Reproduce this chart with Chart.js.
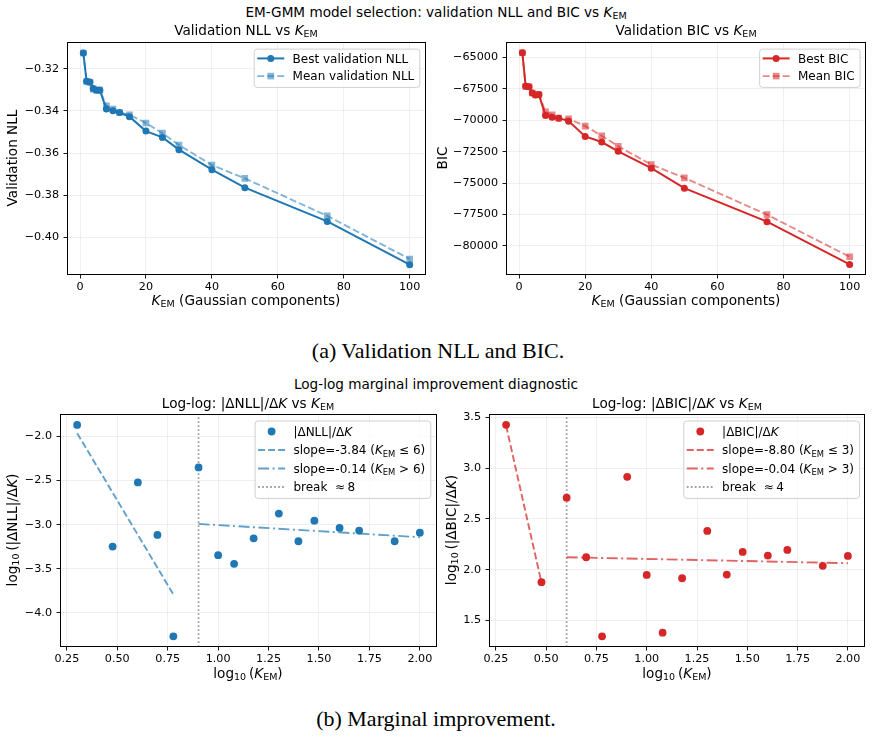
<!DOCTYPE html>
<html><head><meta charset="utf-8">
<script src="https://cdn.jsdelivr.net/npm/chart.js@4"></script>
<style>
html,body{margin:0;padding:0;background:#fff;overflow:hidden}
body{width:873px;height:737px;position:relative;font-family:"DejaVu Sans",sans-serif;color:#000}
canvas{position:absolute}
.t{position:absolute;white-space:nowrap;transform:translate(-50%,-50%);line-height:1;font-size:13.6px}
.t.r{transform:translate(-50%,-50%) rotate(-90deg)}
sub{font-size:70%;vertical-align:-0.22em;line-height:0}
.cap{font-family:"Liberation Serif",serif;font-size:22px}
</style></head><body>
<canvas id="c1"></canvas><canvas id="c2"></canvas><canvas id="c3"></canvas><canvas id="c4"></canvas>
<div class="t" style="left:436px;top:12.6px">EM-GMM model selection: validation NLL and BIC vs <i>K</i><sub>EM</sub></div>
<div class="t" style="left:246px;top:31.3px">Validation NLL vs <i>K</i><sub>EM</sub></div>
<div class="t" style="left:686px;top:31.3px">Validation BIC vs <i>K</i><sub>EM</sub></div>
<div class="t" style="left:246px;top:301.3px"><i>K</i><sub>EM</sub> (Gaussian components)</div>
<div class="t" style="left:686px;top:301.3px"><i>K</i><sub>EM</sub> (Gaussian components)</div>
<div class="t r" style="left:13px;top:158px">Validation NLL</div>
<div class="t r" style="left:443px;top:158px">BIC</div>
<div class="t cap" style="left:438px;top:350.9px">(a) Validation NLL and BIC.</div>
<div class="t" style="left:436px;top:384.6px">Log-log marginal improvement diagnostic</div>
<div class="t" style="left:248px;top:404.3px">Log-log: |ΔNLL|/Δ<i>K</i> vs <i>K</i><sub>EM</sub></div>
<div class="t" style="left:677px;top:404.3px">Log-log: |ΔBIC|/Δ<i>K</i> vs <i>K</i><sub>EM</sub></div>
<div class="t" style="left:248px;top:673.6px">log<sub>10</sub>&thinsp;(<i>K</i><sub>EM</sub>)</div>
<div class="t" style="left:677px;top:673.6px">log<sub>10</sub>&thinsp;(<i>K</i><sub>EM</sub>)</div>
<div class="t r" style="left:12.6px;top:530px">log<sub>10</sub>&thinsp;(|ΔNLL|/Δ<i>K</i>)</div>
<div class="t r" style="left:452.3px;top:530px">log<sub>10</sub>&thinsp;(|ΔBIC|/Δ<i>K</i>)</div>
<div class="t cap" style="left:436px;top:719.3px">(b) Marginal improvement.</div>
<script>
// ---------- data ----------
const K = [1, 2, 3, 4, 5, 6, 8, 10, 12, 15, 20, 25, 30, 40, 50, 75, 100];
const nllBest = [-0.3126, -0.3260, -0.3263, -0.3294, -0.3302, -0.3302, -0.3392, -0.3400, -0.3408, -0.3428, -0.3496, -0.3526, -0.3584, -0.3679, -0.3764, -0.3924, -0.4129];
const nllMean = [-0.3126, -0.3261, -0.3266, -0.3297, -0.3302, -0.3301, -0.3376, -0.3392, -0.3408, -0.3419, -0.3458, -0.3506, -0.3562, -0.3657, -0.3720, -0.3898, -0.4102];
const bicBest = [-64630, -67298, -67330, -67826, -67984, -67958, -69622, -69754, -69833, -70071, -71286, -71735, -72474, -73821, -75406, -78073, -81480];
const bicMean = [-64630, -67300, -67335, -67830, -67990, -67960, -69331, -69569, -69833, -69886, -70467, -71233, -72078, -73531, -74587, -77518, -80872];

const logK = [0.301, 0.477, 0.602, 0.699, 0.778, 0.903, 1.000, 1.079, 1.176, 1.301, 1.398, 1.477, 1.602, 1.699, 1.875, 2.000];
const dNll = [-1.868, -3.249, -2.521, -3.117, -4.268, -2.351, -3.347, -3.445, -3.155, -2.875, -3.189, -2.955, -3.038, -3.068, -3.189, -3.091];
const dBic = [3.428, 1.877, 2.710, 2.123, 1.343, 2.916, 1.949, 1.379, 1.916, 2.382, 1.952, 2.175, 2.139, 2.195, 2.038, 2.136];

const nllFitLoX = [0.301, 0.778], nllFitLoY = [-1.962, -3.792];
const nllFitHiX = [0.903, 2.000], nllFitHiY = [-2.992, -3.143];
const bicFitLoX = [0.301, 0.477], bicFitLoY = [3.420, 1.872];
const bicFitHiX = [0.602, 2.000], bicFitHiY = [2.123, 2.064];
const nllBreak = 0.903, bicBreak = 0.602;

const kTicks = [0, 20, 40, 60, 80, 100];
const nllTicks = [-0.40, -0.38, -0.36, -0.34, -0.32];
const bicTicks = [-80000, -77500, -75000, -72500, -70000, -67500, -65000];
const logTicks = [0.25, 0.50, 0.75, 1.00, 1.25, 1.50, 1.75, 2.00];
const dNllTicks = [-4.0, -3.5, -3.0, -2.5, -2.0];
const dBicTicks = [1.5, 2.0, 2.5, 3.0, 3.5];

// ---------- styling ----------
const BLUE = 'rgb(31,119,180)', RED = 'rgb(214,39,40)';
const BLUE_M = 'rgba(31,119,180,0.55)', RED_M = 'rgba(214,39,40,0.55)';
const BLUE_F = 'rgba(31,119,180,0.7)', RED_F = 'rgba(214,39,40,0.72)';
const GRAY_B = 'rgba(128,128,128,0.75)';
const DASH = [7, 3], DASHDOT = [11, 3.5, 2, 3.5], DOT = [1.8, 2.2];
const FONT = 'DejaVu Sans';
const TICK_FS = 11.2;

function fmt(v, d) { return v.toFixed(d).replace('-', '\u2212'); }
function pts(xs, ys) { return xs.map((x, i) => ({x: x, y: ys[i]})); }

function segFont(st, fs) {
  if (st === 'i') return 'italic ' + fs + 'px "' + FONT + '"';
  if (st === 's') return (fs * 0.7) + 'px "' + FONT + '"';
  return fs + 'px "' + FONT + '"';
}
function richWidth(ctx, segs, fs) {
  let w = 0;
  for (const s of segs) { ctx.font = segFont(s[1], fs); w += ctx.measureText(s[0]).width; }
  return w;
}
function drawRich(ctx, segs, x, y, fs) {
  ctx.textBaseline = 'alphabetic'; ctx.textAlign = 'left';
  for (const s of segs) {
    ctx.font = segFont(s[1], fs);
    const dy = s[1] === 's' ? fs * 0.22 : 0;
    ctx.fillText(s[0], x, y + dy);
    x += ctx.measureText(s[0]).width;
  }
}
function marker(ctx, kind, x, y, r, color) {
  ctx.fillStyle = color; ctx.beginPath();
  if (kind === 'rect') { const s = r * Math.SQRT1_2; ctx.rect(x - s, y - s, 2 * s, 2 * s); }
  else ctx.arc(x, y, r, 0, Math.PI * 2);
  ctx.fill();
}

const LEG = {};
const boxPlugin = { id: 'box', afterDatasetsDraw(chart) {
  const a = chart.chartArea, c = chart.ctx;
  c.save(); c.strokeStyle = '#000'; c.lineWidth = 1; c.setLineDash([]);
  const l = Math.round(a.left) + 0.5, t = Math.round(a.top) + 0.5, r = Math.round(a.right) - 0.5, b = Math.round(a.bottom) - 0.5;
  c.strokeRect(l, t, r - l, b - t); c.restore();
}};
const legendPlugin = { id: 'rlegend', afterDraw(chart) {
  const L = LEG[chart.canvas.id]; if (!L) return;
  const ctx = chart.ctx, a = chart.chartArea, fs = L.fs;
  let maxW = 0;
  for (const it of L.items) maxW = Math.max(maxW, richWidth(ctx, it.label, fs));
  const pad = 3.5, hl = 27, gap = 8.3, padR = 5;
  const w = pad + hl + gap + maxW + padR, h = L.h;
  const x0 = a.right - L.dr - w, y0 = a.top + L.dt;
  ctx.save();
  ctx.beginPath();
  if (ctx.roundRect) ctx.roundRect(x0 + 0.5, y0 + 0.5, w, h, 3); else ctx.rect(x0 + 0.5, y0 + 0.5, w, h);
  ctx.fillStyle = 'rgba(255,255,255,0.8)'; ctx.fill();
  ctx.strokeStyle = '#d0d0d0'; ctx.lineWidth = 1; ctx.stroke();
  L.items.forEach((it, i) => {
    const y = y0 + L.first + i * L.step;
    const hx = x0 + pad;
    if (it.line) {
      ctx.beginPath(); ctx.setLineDash(it.dash || []); ctx.lineWidth = it.lw; ctx.strokeStyle = it.color;
      ctx.moveTo(hx, y); ctx.lineTo(hx + hl, y); ctx.stroke(); ctx.setLineDash([]);
    }
    if (it.marker) marker(ctx, it.marker, hx + hl / 2, y, it.r, it.color);
    ctx.fillStyle = '#000';
    drawRich(ctx, it.label, hx + hl + gap, y + fs * 0.36, fs);
  });
  ctx.restore();
}};

function axis(s, dir, size) {
  return {
    type: 'linear', position: dir === 'x' ? 'bottom' : 'left', min: s.min, max: s.max,
    afterBuildTicks: sc => { sc.ticks = s.ticks.map(v => ({value: v})); },
    afterFit: sc => { if (dir === 'x') sc.height = size; else sc.width = size; },
    ticks: { callback: v => fmt(v, s.dec), color: '#000', font: {family: FONT, size: TICK_FS},
             padding: dir === 'x' ? 1.5 : 4.5, maxRotation: 0, minRotation: 0, autoSkip: false },
    grid: { color: '#ebebeb', lineWidth: 0.8, tickColor: '#000', tickLength: 3.5, tickWidth: 0.9, drawTicks: true },
    border: { display: false }
  };
}

function makeChart(id, g, datasets, xs, ys, leg) {
  const cv = document.getElementById(id);
  const W = g.yw + (g.R - g.L) + g.pr, H = g.pt + (g.B - g.T) + g.xh;
  cv.width = W; cv.height = H;
  cv.style.left = (g.L - g.yw) + 'px'; cv.style.top = (g.T - g.pt) + 'px';
  cv.style.width = W + 'px'; cv.style.height = H + 'px';
  LEG[id] = leg;
  return new Chart(cv, {
    type: 'scatter', data: { datasets },
    options: {
      responsive: false, animation: false, devicePixelRatio: 1,
      layout: { padding: { left: 0, top: g.pt, right: g.pr, bottom: 0 } },
      plugins: { legend: { display: false }, tooltip: { enabled: false } },
      elements: { line: { tension: 0 } },
      scales: { x: axis(xs, 'x', g.xh), y: axis(ys, 'y', g.yw) }
    },
    plugins: [boxPlugin, legendPlugin]
  });
}

function lineDs(xs, ys, color, lw, dash, ps, pr, order) {
  return { data: pts(xs, ys), showLine: true, borderColor: color, backgroundColor: color, borderWidth: lw,
           borderDash: dash, pointStyle: ps, pointRadius: pr, pointBorderWidth: 0, pointHoverRadius: pr, order: order };
}

// ---------- top-left: NLL ----------
const xK = { min: -3.95, max: 104.95, ticks: kTicks, dec: 0 };
makeChart('c1', {L: 67, T: 41, R: 426, B: 275, yw: 50, xh: 24, pt: 10, pr: 10}, [
  lineDs(K, nllMean, BLUE_M, 1.9, DASH, 'rect', 4.7, 0),
  lineDs(K, nllBest, BLUE, 2, [], 'circle', 3.5, 1)
], xK, { min: -0.4178, max: -0.3075, ticks: nllTicks, dec: 2 }, {
  fs: 12, dr: 6.7, dt: 6.4, h: 38.3, first: 9.8, step: 17.7,
  items: [
    { line: true, color: BLUE, lw: 2, marker: 'circle', r: 3.5, label: [['Best validation NLL', '']] },
    { line: true, color: BLUE_M, lw: 1.9, dash: DASH, marker: 'rect', r: 4.7, label: [['Mean validation NLL', '']] }
  ]
});

// ---------- top-right: BIC ----------
makeChart('c2', {L: 506, T: 41, R: 866, B: 275, yw: 56, xh: 24, pt: 10, pr: 7}, [
  lineDs(K, bicMean, RED_M, 1.9, DASH, 'rect', 4.7, 0),
  lineDs(K, bicBest, RED, 2, [], 'circle', 3.5, 1)
], xK, { min: -82322, max: -63788, ticks: bicTicks, dec: 0 }, {
  fs: 12, dr: 6.4, dt: 6.4, h: 38.3, first: 9.8, step: 17.7,
  items: [
    { line: true, color: RED, lw: 2, marker: 'circle', r: 3.5, label: [['Best BIC', '']] },
    { line: true, color: RED_M, lw: 1.9, dash: DASH, marker: 'rect', r: 4.7, label: [['Mean BIC', '']] }
  ]
});

// ---------- bottom-left: dNLL ----------
const xLog = { min: 0.216, max: 2.085, ticks: logTicks, dec: 2 };
const yNll = { min: -4.389, max: -1.747, ticks: dNllTicks, dec: 1 };
makeChart('c3', {L: 60, T: 413, R: 437, B: 647, yw: 44, xh: 24, pt: 10, pr: 10}, [
  { data: pts(logK, dNll), showLine: false, backgroundColor: BLUE, pointRadius: 3.9, pointBorderWidth: 0, order: 0 },
  lineDs(nllFitLoX, nllFitLoY, BLUE_F, 1.9, DASH, 'circle', 0, 1),
  lineDs(nllFitHiX, nllFitHiY, BLUE_F, 1.9, DASHDOT, 'circle', 0, 2),
  lineDs([nllBreak, nllBreak], [yNll.min, yNll.max], GRAY_B, 1.8, DOT, 'circle', 0, 3)
], xLog, yNll, {
  fs: 12, dr: 6.7, dt: 6.3, h: 77.4, first: 11, step: 18.5,
  items: [
    { line: false, color: BLUE, marker: 'circle', r: 3.9, label: [['|ΔNLL|/Δ', ''], ['K', 'i']] },
    { line: true, color: BLUE_F, lw: 1.9, dash: DASH, label: [['slope=-3.84 (', ''], ['K', 'i'], ['EM', 's'], [' ≤ 6)', '']] },
    { line: true, color: BLUE_F, lw: 1.9, dash: DASHDOT, label: [['slope=-0.14 (', ''], ['K', 'i'], ['EM', 's'], [' > 6)', '']] },
    { line: true, color: GRAY_B, lw: 1.8, dash: DOT, label: [['break  ≈\u20098', '']] }
  ]
});

// ---------- bottom-right: dBIC ----------
const yBic = { min: 1.238, max: 3.533, ticks: dBicTicks, dec: 1 };
makeChart('c4', {L: 489, T: 413, R: 865, B: 647, yw: 44, xh: 24, pt: 10, pr: 8}, [
  { data: pts(logK, dBic), showLine: false, backgroundColor: RED, pointRadius: 3.9, pointBorderWidth: 0, order: 0 },
  lineDs(bicFitLoX, bicFitLoY, RED_F, 1.9, DASH, 'circle', 0, 1),
  lineDs(bicFitHiX, bicFitHiY, RED_F, 1.9, DASHDOT, 'circle', 0, 2),
  lineDs([bicBreak, bicBreak], [yBic.min, yBic.max], GRAY_B, 1.8, DOT, 'circle', 0, 3)
], xLog, yBic, {
  fs: 12, dr: 6, dt: 6.3, h: 77.4, first: 11, step: 18.5,
  items: [
    { line: false, color: RED, marker: 'circle', r: 3.9, label: [['|ΔBIC|/Δ', ''], ['K', 'i']] },
    { line: true, color: RED_F, lw: 1.9, dash: DASH, label: [['slope=-8.80 (', ''], ['K', 'i'], ['EM', 's'], [' ≤ 3)', '']] },
    { line: true, color: RED_F, lw: 1.9, dash: DASHDOT, label: [['slope=-0.04 (', ''], ['K', 'i'], ['EM', 's'], [' > 3)', '']] },
    { line: true, color: GRAY_B, lw: 1.8, dash: DOT, label: [['break  ≈\u20094', '']] }
  ]
});
</script>
</body></html>
